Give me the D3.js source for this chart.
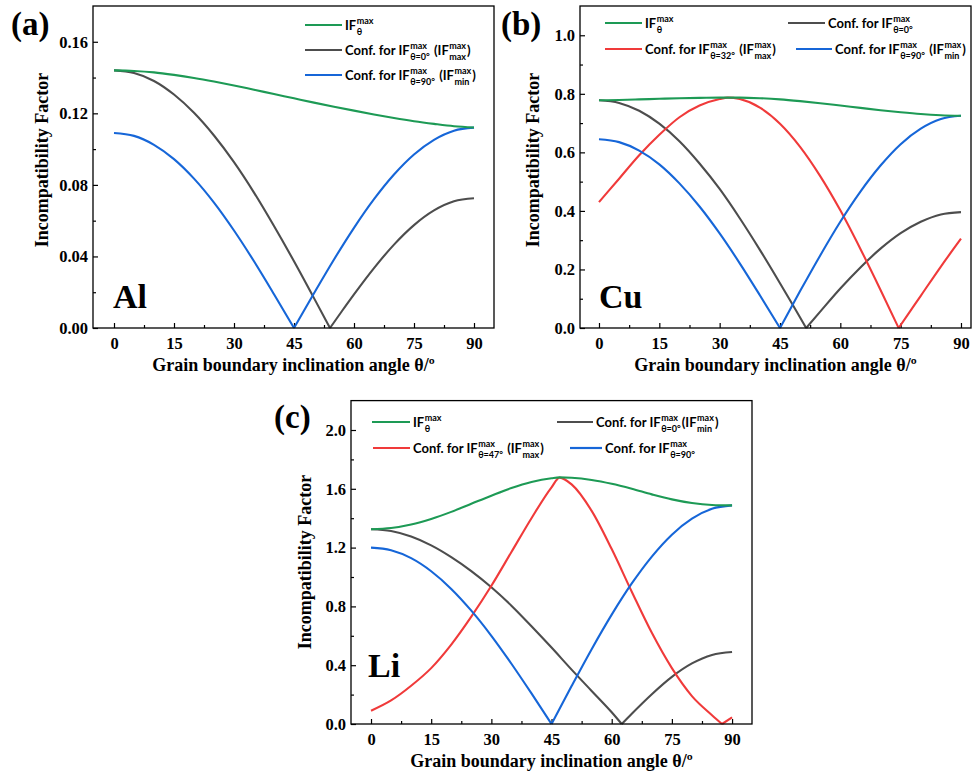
<!DOCTYPE html>
<html>
<head>
<meta charset="utf-8">
<script src="https://cdn.jsdelivr.net/npm/d3@7"></script>
<style>
  body { margin: 0; background: #fff; }
  svg { display: block; }
  text { white-space: pre; }
  .tick text { font-family: "Liberation Serif", "Times New Roman", serif; font-weight: bold; font-size: 16.5px; fill: #000; }
  .title { font-family: "Liberation Serif", "Times New Roman", serif; font-weight: bold; font-size: 18px; }
  .letter { font-family: "Liberation Serif", "Times New Roman", serif; font-weight: bold; font-size: 33px; }
  .elem { font-family: "Liberation Serif", "Times New Roman", serif; font-weight: bold; font-size: 34px; }
  .leg { font-family: Lato, "Open Sans", sans-serif; font-weight: bold; font-size: 13px; }
  .legs { font-family: Lato, "Open Sans", sans-serif; font-weight: bold; font-size: 9px; }
</style>
</head>
<body>
<div id="fig"></div>
<script>
// ---- data: [theta (deg), incompatibility factor] ----
// (a) Al
var alMax   = [[0,.1440],[5,.1437],[10,.1429],[15,.1415],[20,.1398],[25,.1378],[30,.1356],[35,.1332],[40,.1308],[45,.1284],[50,.1260],[55,.1237],[60,.1215],[65,.1194],[70,.1174],[75,.1156],[80,.1141],[85,.1128],[90,.1121]];
var alConf0 = [[0,.1440],[5,.1425],[10,.1381],[15,.1305],[20,.1203],[25,.1076],[30,.0927],[35,.0757],[40,.0570],[45,.0373],[50,.0167],[54,0],[57,.0095],[60,.0188],[65,.0335],[70,.0466],[75,.0575],[80,.0657],[85,.0708],[90,.0725]];
var alConf90 = [[0,.1090],[5,.1074],[10,.1024],[15,.0944],[20,.0835],[25,.0701],[30,.0545],[35,.0373],[40,.0189],[45,0],[50,.0194],[55,.0383],[60,.0560],[65,.0720],[70,.0858],[75,.0970],[80,.1052],[85,.1103],[90,.1120]];

// (b) Cu
var cuMax   = [[0,.778],[5,.779],[10,.781],[15,.783],[20,.785],[25,.786],[30,.787],[35,.787],[40,.785],[45,.781],[50,.775],[55,.768],[60,.760],[65,.752],[70,.744],[75,.737],[80,.731],[85,.727],[90,.725]];
var cuConf0 = [[0,.778],[5,.769],[10,.742],[15,.698],[20,.638],[25,.562],[30,.475],[35,.375],[40,.267],[45,.153],[50,.036],[51.5,0],[55,.056],[60,.135],[65,.207],[70,.271],[75,.324],[80,.363],[85,.388],[90,.396]];
var cuConf32 = [[0,.430],[5,.510],[10,.590],[15,.660],[20,.720],[25,.760],[30,.782],[32,.787],[35,.782],[40,.753],[45,.698],[50,.619],[55,.519],[60,.402],[65,.270],[70,.130],[74.5,0],[77,.050],[80,.110],[85,.210],[90,.305]];
var cuConf90 = [[0,.645],[5,.635],[10,.606],[15,.559],[20,.494],[25,.415],[30,.323],[35,.221],[40,.112],[45,0],[50,.126],[55,.248],[60,.363],[65,.466],[70,.555],[75,.628],[80,.681],[85,.714],[90,.725]];

// (c) Li
var liMax   = [[0,1.325],[5,1.333],[10,1.357],[15,1.395],[20,1.443],[25,1.498],[30,1.553],[35,1.605],[40,1.646],[45,1.672],[47,1.678],[50,1.675],[55,1.660],[60,1.634],[65,1.600],[70,1.562],[75,1.528],[80,1.503],[85,1.490],[90,1.487]];
var liConf0 = [[0,1.325],[5,1.313],[10,1.275],[15,1.215],[20,1.135],[25,1.040],[30,.930],[35,.805],[40,.665],[45,.520],[50,.370],[55,.225],[60,.080],[62.5,0],[65,.070],[70,.203],[75,.321],[80,.412],[85,.470],[90,.490]];
var liConf47 = [[0,.090],[5,.160],[10,.260],[15,.380],[20,.540],[25,.730],[30,.940],[35,1.170],[40,1.400],[45,1.610],[47,1.676],[50,1.630],[55,1.450],[60,1.190],[65,.900],[70,.620],[75,.380],[80,.190],[85,.060],[87.5,0],[90,.045]];
var liConf90 = [[0,1.200],[5,1.182],[10,1.128],[15,1.039],[20,.919],[25,.771],[30,.600],[35,.410],[40,.208],[45,0],[50,.258],[55,.509],[60,.744],[65,.956],[70,1.139],[75,1.288],[80,1.397],[85,1.464],[90,1.487]];

// tick labels
var xTicks = [0, 15, 30, 45, 60, 75, 90];
var xMinor = [7.5, 22.5, 37.5, 52.5, 67.5, 82.5];
var alYTicks = [0, .04, .08, .12, .16];
var cuYTicks = [0, .2, .4, .6, .8, 1.0];
var liYTicks = [0, .4, .8, 1.2, 1.6, 2.0];

var colors = { max: "#1d9a55", c0: "#4d4d4d", red: "#f03a3a", blue: "#1666d8" };

var svg = d3.select("#fig").append("svg")
    .attr("width", 972)
    .attr("height", 778);

// sub/superscript stacked text, parts are strings or [sup, sub]
function richText(g, x, y, parts) {
  var cx = x;
  parts.forEach(function (p) {
    if (typeof p === "string") {
      var t = g.append("text").attr("class", "leg").attr("x", cx).attr("y", y).text(p);
      cx += t.node().getComputedTextLength();
    } else {
      var a = g.append("text").attr("class", "legs").attr("x", cx + 0.5).attr("y", y - 6.5).text(p[0]);
      var b = g.append("text").attr("class", "legs").attr("x", cx + 0.5).attr("y", y + 4.5).text(p[1]);
      cx += Math.max(a.node().getComputedTextLength(), b.node().getComputedTextLength()) + 1.5;
    }
  });
}

// split a V-shaped series at interior zeros so corners stay sharp
function pieces(data) {
  var out = [], cur = [];
  data.forEach(function (d, i) {
    cur.push(d);
    if (d[1] === 0 && i > 0 && i < data.length - 1) { out.push(cur); cur = [d]; }
  });
  out.push(cur);
  return out;
}

function drawPanel(p) {
  var w = p.right - p.left, h = p.bottom - p.top;
  var g = svg.append("g").attr("transform", "translate(" + p.left + "," + p.top + ")");

  var x = d3.scaleLinear().domain(p.xDomain).range([0, w]);
  var y = d3.scaleLinear().domain(p.yDomain).range([h, 0]);

  // minor ticks
  g.append("g").attr("transform", "translate(0," + h + ")")
    .call(d3.axisBottom(x).tickValues(xMinor).tickSizeInner(-3).tickSizeOuter(0).tickFormat(""))
    .call(function (s) { s.select(".domain").remove(); });
  g.append("g")
    .call(d3.axisLeft(y).tickValues(p.yMinor).tickSizeInner(-3).tickSizeOuter(0).tickFormat(""))
    .call(function (s) { s.select(".domain").remove(); });

  // major ticks
  g.append("g").attr("transform", "translate(0," + h + ")")
    .call(d3.axisBottom(x).tickValues(xTicks).tickSizeInner(-5).tickSizeOuter(0).tickPadding(9).tickFormat(d3.format("d")))
    .call(function (s) { s.select(".domain").remove(); });
  g.append("g")
    .call(d3.axisLeft(y).tickValues(p.yTicks).tickSizeInner(-5).tickSizeOuter(0).tickPadding(5).tickFormat(d3.format(p.yFmt)))
    .call(function (s) { s.select(".domain").remove(); });
  g.selectAll(".tick line").attr("stroke", "#000").attr("stroke-width", 1.2);

  // curves
  var line = d3.line()
    .x(function (d) { return x(d[0]); })
    .y(function (d) { return y(d[1]); })
    .curve(d3.curveMonotoneX);
  p.series.forEach(function (s) {
    pieces(s.data).forEach(function (part) {
      g.append("path").datum(part)
        .attr("d", line)
        .attr("fill", "none")
        .attr("stroke", s.color)
        .attr("stroke-width", 2.1);
    });
  });

  // frame
  g.append("rect").attr("width", w).attr("height", h)
    .attr("fill", "none").attr("stroke", "#000").attr("stroke-width", 1.3);

  // legend
  p.legend.forEach(function (l) {
    svg.append("line")
      .attr("x1", l.x1).attr("x2", l.x2).attr("y1", l.y).attr("y2", l.y)
      .attr("stroke", l.color).attr("stroke-width", 2.2);
    richText(svg, l.x2 + 3, l.y + 5, l.text);
  });

  // axis titles
  svg.append("text").attr("class", "title")
    .attr("text-anchor", "middle")
    .attr("x", (p.left + p.right) / 2).attr("y", p.bottom + 43)
    .text("Grain boundary inclination angle θ/º");
  svg.append("text").attr("class", "title")
    .attr("text-anchor", "middle")
    .attr("transform", "translate(" + p.ytX + "," + p.ytY + ") rotate(-90)")
    .text("Incompatibility Factor");

  svg.append("text").attr("class", "letter").attr("x", p.letter[1]).attr("y", p.letter[2]).text(p.letter[0]);
  svg.append("text").attr("class", "elem").attr("x", p.elem[1]).attr("y", p.elem[2]).text(p.elem[0]);
}

var th = "θ";
drawPanel({
  left: 93, right: 494, top: 6, bottom: 328,
  xDomain: [-5.25, 95], yDomain: [0, 0.18],
  yTicks: alYTicks, yMinor: [.02, .06, .10, .14], yFmt: ".2f",
  ytX: 48, ytY: 160, letter: ["(a)", 11, 35], elem: ["Al", 113, 308],
  series: [
    { data: alConf0, color: colors.c0 },
    { data: alConf90, color: colors.blue },
    { data: alMax, color: colors.max }
  ],
  legend: [
    { x1: 305, x2: 342, y: 25, color: colors.max, text: ["IF", ["max", th]] },
    { x1: 305, x2: 342, y: 50, color: colors.c0, text: ["Conf. for IF", ["max", th + "=0°"], " (IF", ["max", "max"], ")"] },
    { x1: 305, x2: 342, y: 75, color: colors.blue, text: ["Conf. for IF", ["max", th + "=90°"], " (IF", ["max", "min"], ")"] }
  ]
});

drawPanel({
  left: 580, right: 971, top: 6, bottom: 328,
  xDomain: [-4.72, 92.49], yDomain: [0, 1.1],
  yTicks: cuYTicks, yMinor: [.1, .3, .5, .7, .9], yFmt: ".1f",
  ytX: 539, ytY: 160, letter: ["(b)", 501, 35], elem: ["Cu", 599, 308],
  series: [
    { data: cuConf0, color: colors.c0 },
    { data: cuConf32, color: colors.red },
    { data: cuConf90, color: colors.blue },
    { data: cuMax, color: colors.max }
  ],
  legend: [
    { x1: 605, x2: 642, y: 23, color: colors.max, text: ["IF", ["max", th]] },
    { x1: 788, x2: 825, y: 23, color: colors.c0, text: ["Conf. for IF", ["max", th + "=0°"]] },
    { x1: 605, x2: 642, y: 49, color: colors.red, text: ["Conf. for IF", ["max", th + "=32°"], " (IF", ["max", "max"], ")"] },
    { x1: 796, x2: 832, y: 49, color: colors.blue, text: ["Conf. for IF", ["max", th + "=90°"], " (IF", ["max", "min"], ")"] }
  ]
});

drawPanel({
  left: 351, right: 752, top: 400.6, bottom: 724,
  xDomain: [-4.99, 94.97], yDomain: [0, 2.2],
  yTicks: liYTicks, yMinor: [.2, .6, 1.0, 1.4, 1.8], yFmt: ".1f",
  ytX: 311, ytY: 562, letter: ["(c)", 274, 428], elem: ["Li", 368, 677],
  series: [
    { data: liConf0, color: colors.c0 },
    { data: liConf47, color: colors.red },
    { data: liConf90, color: colors.blue },
    { data: liMax, color: colors.max }
  ],
  legend: [
    { x1: 372, x2: 410, y: 422, color: colors.max, text: ["IF", ["max", th]] },
    { x1: 557, x2: 593, y: 422, color: colors.c0, text: ["Conf. for IF", ["max", th + "=0°"], "(IF", ["max", "min"], ")"] },
    { x1: 373, x2: 410, y: 448, color: colors.red, text: ["Conf. for IF", ["max", th + "=47°"], " (IF", ["max", "max"], ")"] },
    { x1: 570, x2: 602, y: 448, color: colors.blue, text: ["Conf. for IF", ["max", th + "=90°"]] }
  ]
});
</script>
</body>
</html>
